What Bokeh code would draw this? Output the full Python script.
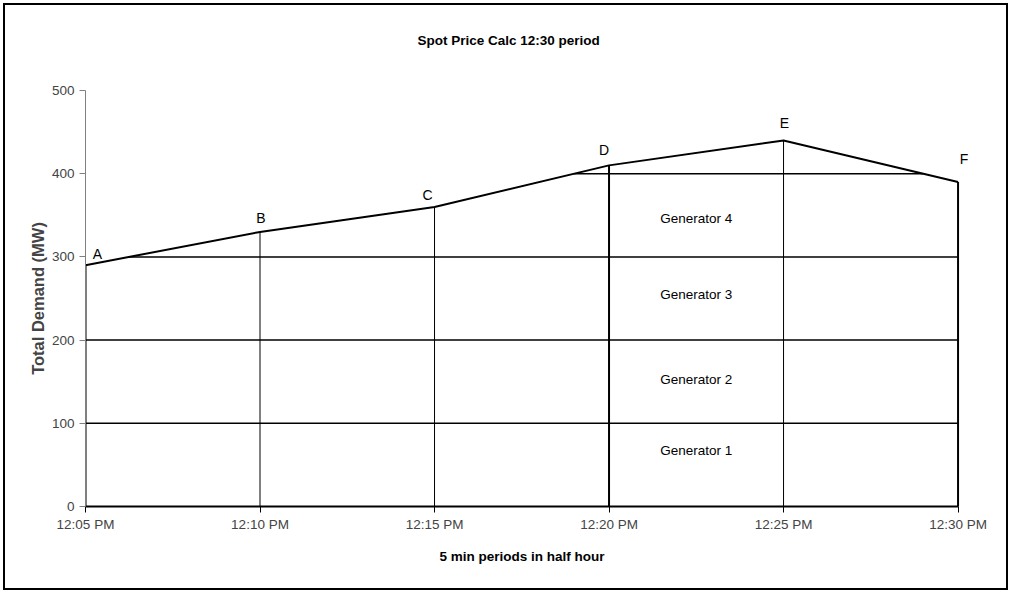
import numpy as np
from bokeh.plotting import figure
from bokeh.models import FixedTicker, Range1d, ColumnDataSource, LabelSet, Title
from bokeh.embed import file_html
from bokeh.resources import INLINE
from bokeh.core.properties import value

# ---- data ----
minutes = [5, 10, 15, 20, 25, 30]
time_labels = ["12:05 PM", "12:10 PM", "12:15 PM", "12:20 PM", "12:25 PM", "12:30 PM"]
demand = [290, 330, 360, 410, 440, 390]
point_names = ["A", "B", "C", "D", "E", "F"]
gen_levels = [100, 200, 300, 400]
gen_names = ["Generator 1", "Generator 2", "Generator 3", "Generator 4"]
gen_label_y = [67, 153, 255, 346]
gen_label_x = 22.5
title_text = "Spot Price Calc 12:30 period"
x_title = "5 min periods in half hour"
y_title = "Total Demand (MW)"

FONT = "Liberation Sans"

p = figure(width=1005, height=587, output_backend="svg", toolbar_location=None,
           x_range=Range1d(minutes[0], minutes[-1] + 0.5), y_range=Range1d(0, 500),
           min_border_left=80, min_border_right=35, min_border_top=85, min_border_bottom=86)
p.styles = {"border": "2px solid black", "margin-left": "3px", "margin-top": "3px"}
p.outline_line_color = None
p.grid.visible = False
p.background_fill_color = "white"
p.border_fill_color = "white"

# title: a thin spacer next to the frame, then the real title above it
p.title = None
spacer = Title(text=" ", text_font_size="1px", standoff=14)
main_title = Title(text=title_text, align="left", offset=332, standoff=51,
                   text_font=FONT, text_font_size="13.5px", text_font_style="bold",
                   text_color="black")
p.add_layout(spacer, "above")
p.add_layout(main_title, "above")

# axes
xa = p.xaxis[0]
xa.bounds = (minutes[0], minutes[-1])
xa.ticker = FixedTicker(ticks=minutes)
xa.major_label_overrides = {m: t for m, t in zip(minutes, time_labels)}
xa.minor_tick_line_color = None
xa.major_tick_in = 0
xa.major_tick_out = 6
xa.axis_line_width = 2
xa.axis_line_color = "black"
xa.major_label_text_font = FONT
xa.major_label_text_font_size = "13.5px"
xa.major_label_standoff = 4

# x axis title as a left-aligned title below the axis
x_lab = Title(text=x_title, align="left", offset=354, standoff=25,
              text_font=FONT, text_font_size="13.5px", text_font_style="bold",
              text_color="black")
p.add_layout(x_lab, "below")

ya = p.yaxis[0]
ya.ticker = FixedTicker(ticks=[0, 100, 200, 300, 400, 500])
ya.minor_tick_line_color = None
ya.major_tick_in = 0
ya.major_tick_out = 6
ya.axis_line_color = "#808080"
ya.major_tick_line_color = "#808080"
ya.major_label_text_font = FONT
ya.major_label_text_font_size = "13.5px"
ya.major_label_standoff = 5
ya.axis_label = y_title
ya.axis_label_text_font = FONT
ya.axis_label_text_font_style = "bold"
ya.axis_label_text_font_size = "16.5px"
ya.axis_label_standoff = 2

# horizontal generator lines: span where demand is at or above the level
xs_fine = np.linspace(minutes[0], minutes[-1], 2501)
d_fine = np.interp(xs_fine, minutes, demand)
h_x0, h_x1 = [], []
for lvl in gen_levels:
    above = xs_fine[d_fine >= lvl]
    h_x0.append(above.min())
    h_x1.append(above.max())
p.segment(x0=h_x0, x1=h_x1, y0=gen_levels, y1=gen_levels, line_color="black", line_width=1.5)

# vertical lines
thick = [2, 1, 1, 2, 1, 2]
p.segment(x0=minutes, x1=minutes, y0=[0] * len(minutes), y1=demand,
          line_color="black", line_width=thick)

# demand line
p.line(minutes, demand, line_color="black", line_width=2)

# point labels
lab_dx = [12, 1, -7, -5, 1, 6]
lab_dy = [11, 14, 12, 15, 17, 23]
src = ColumnDataSource(dict(x=minutes, y=demand, t=point_names, dx=lab_dx, dy=lab_dy))
labels = LabelSet(x="x", y="y", text="t", x_offset="dx", y_offset="dy", source=src,
                  text_font=value(FONT), text_font_size="14px", text_align="center",
                  text_baseline="middle", text_color="black")
p.add_layout(labels)

# generator labels
p.text(x=[gen_label_x] * 4, y=gen_label_y, text=gen_names,
       text_font=value(FONT), text_font_size="13.5px", text_align="center",
       text_baseline="middle", text_color="black")

open("out.html", "w").write(file_html(p, INLINE))
